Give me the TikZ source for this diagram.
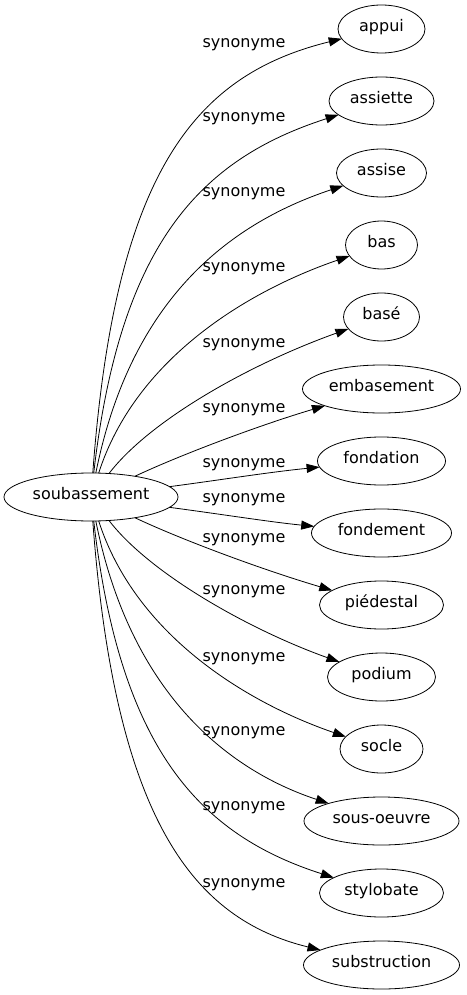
\documentclass[tikz,border=0pt]{standalone}
\usepackage{fontspec}
\setmainfont{DejaVu Sans}
\usetikzlibrary{arrows.meta, shapes.geometric}

\begin{document}
\begin{tikzpicture}[x=1pt, y=-1pt,
  word/.style={draw, ellipse, line width=0.8pt, inner sep=0pt, outer sep=0pt,
    minimum height=48pt, font=\fontsize{16}{19}\selectfont,
    text height=1ex, text depth=0pt},
  rel/.style={inner sep=0pt, font=\fontsize{16}{19}\selectfont,
    text height=1ex, text depth=0pt},
  syn/.style={line width=0.8pt, -{Triangle[length=13pt, width=9pt]}}]
  \useasboundingbox (0,0) rectangle (466,995);

  % source
  \node[word, minimum width=174pt] (soub) at (91,497) {soubassement};

  % targets
  \node[word, minimum width=87pt] (appui) at (381.5,29) {appui};
  \node[word, minimum width=105pt] (assiette) at (381.5,101) {assiette};
  \node[word, minimum width=90pt] (assise) at (381.5,173) {assise};
  \node[word, minimum width=72pt] (bas) at (381.5,245) {bas};
  \node[word, minimum width=76pt] (base) at (381.5,317) {basé};
  \node[word, minimum width=158pt] (embasement) at (381.5,389) {embasement};
  \node[word, minimum width=128pt] (fondation) at (381.5,461) {fondation};
  \node[word, minimum width=140pt] (fondement) at (381.5,533) {fondement};
  \node[word, minimum width=124pt] (piedestal) at (381.5,605) {piédestal};
  \node[word, minimum width=108pt] (podium) at (381.5,677) {podium};
  \node[word, minimum width=83pt] (socle) at (381.5,749) {socle};
  \node[word, minimum width=155pt] (sousoeuvre) at (381.5,821) {sous-oeuvre};
  \node[word, minimum width=124pt] (stylobate) at (381.5,893) {stylobate};
  \node[word, minimum width=156pt] (substruction) at (381.5,965) {substruction};

  % labels
  \node[rel] (l-appui) at (244,45) {synonyme};
  \node[rel] (l-assiette) at (244,119) {synonyme};
  \node[rel] (l-assise) at (244,194) {synonyme};
  \node[rel] (l-bas) at (244,269) {synonyme};
  \node[rel] (l-base) at (244,345) {synonyme};
  \node[rel] (l-embasement) at (244,410) {synonyme};
  \node[rel] (l-fondation) at (244,465) {synonyme};
  \node[rel] (l-fondement) at (244,500) {synonyme};
  \node[rel] (l-piedestal) at (244,540) {synonyme};
  \node[rel] (l-podium) at (244,592) {synonyme};
  \node[rel] (l-socle) at (244,659) {synonyme};
  \node[rel] (l-sousoeuvre) at (244,733) {synonyme};
  \node[rel] (l-stylobate) at (244,808) {synonyme};
  \node[rel] (l-substruction) at (244,885) {synonyme};

  % edges
  \draw[syn] (soub) .. controls (115,173) and (194,75) .. (appui);
  \draw[syn] (soub) .. controls (120,243) and (201,159) .. (assiette);
  \draw[syn] (soub) .. controls (130,303) and (225,225) .. (assise);
  \draw[syn] (soub) .. controls (135,360) and (245,292) .. (bas);
  \draw[syn] (soub) .. controls (150,420) and (250,364) .. (base);
  \draw[syn] (soub) .. controls (180,455) and (260,425) .. (embasement);
  \draw[syn] (soub) .. controls (220,480) and (270,472) .. (fondation);
  \draw[syn] (soub) .. controls (220,514) and (270,522) .. (fondement);
  \draw[syn] (soub) .. controls (180,539) and (260,569) .. (piedestal);
  \draw[syn] (soub) .. controls (150,574) and (250,630) .. (podium);
  \draw[syn] (soub) .. controls (135,634) and (245,702) .. (socle);
  \draw[syn] (soub) .. controls (130,691) and (225,769) .. (sousoeuvre);
  \draw[syn] (soub) .. controls (120,751) and (201,835) .. (stylobate);
  \draw[syn] (soub) .. controls (115,821) and (194,919) .. (substruction);
\end{tikzpicture}
\end{document}
